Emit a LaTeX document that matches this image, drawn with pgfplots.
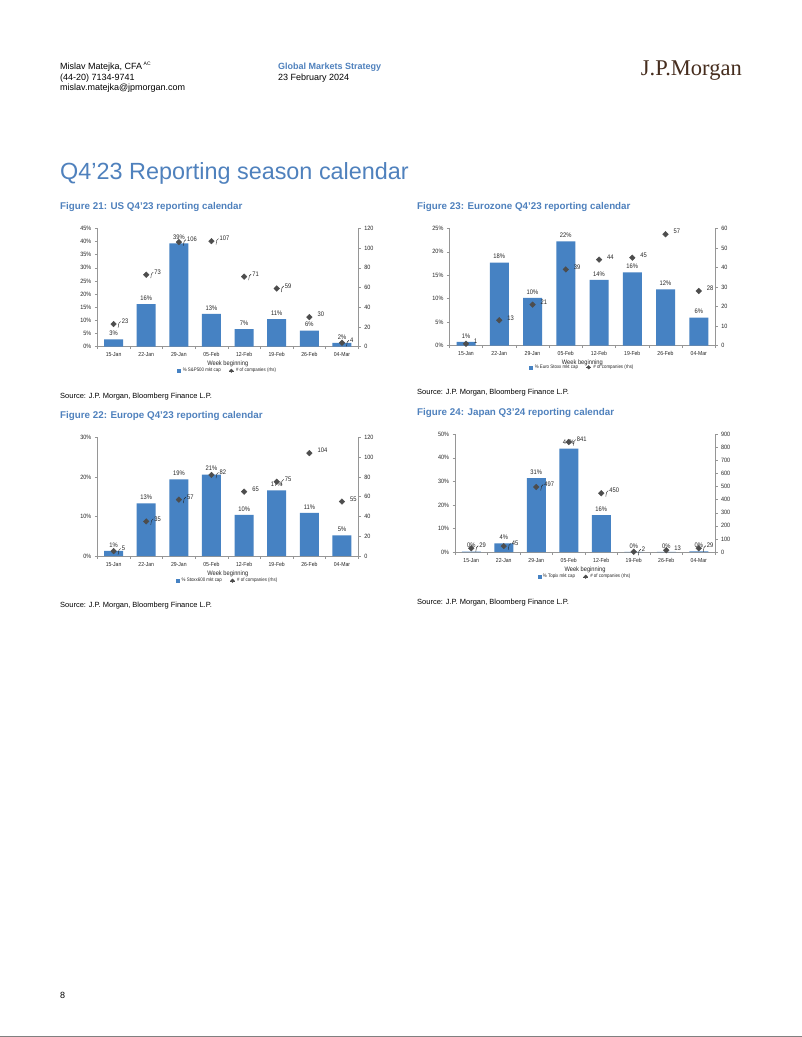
\documentclass[border=0pt]{standalone}
\usepackage{pgfplots}
\pgfplotsset{compat=1.18}
\usepackage{fontspec}
\setmainfont{Liberation Sans}
\newfontfamily\nar[FakeStretch=0.88]{Liberation Sans}
\newfontfamily\jpserif{Liberation Serif}
\definecolor{jpblue}{RGB}{79,129,189}
\definecolor{jpbar}{RGB}{70,130,195}
\definecolor{jpmark}{RGB}{77,77,77}
\definecolor{jpaxis}{RGB}{150,150,150}
\definecolor{jpbrown}{RGB}{70,45,30}

\pgfplotsset{
  /pgf/number format/assume math mode=true,
  jpbase/.style={
    scale only axis, anchor=south west, clip=false,
    xmin=-0.5, xmax=7.5, ymin=0,
    axis line style={draw=jpaxis, line width=0.5pt},
    tick style={draw=jpaxis, line width=0.5pt},
    major tick length=2.5pt,
    tick align=outside,
    yticklabel style={font=\nar\fontsize{6.2}{7}\selectfont, text=black!85},
  },
  jpleft/.style={jpbase,
    axis x line*=bottom, axis y line*=left,
    xtick={-0.5,0.5,1.5,2.5,3.5,4.5,5.5,6.5,7.5},
    xticklabels={15-Jan,22-Jan,29-Jan,05-Feb,12-Feb,19-Feb,26-Feb,04-Mar,{}},
    xticklabel style={font=\nar\fontsize{5.8}{7}\selectfont, text=black!85, xshift=#1},
    yticklabel={\pgfmathprintnumber{\tick}\%},
    ybar, bar width=19pt,
    xlabel={Week beginning},
    xlabel style={font=\nar\fontsize{6.5}{7}\selectfont, text=black!85, anchor=center},
  },
  jpright/.style={jpbase,
    axis y line*=right, axis x line=none,
    legend style={draw=none, fill=none, font=\nar\fontsize{5}{6}\selectfont,
      text=black!85, legend columns=2, anchor=center, inner sep=0pt,
      /tikz/every even column/.append style={column sep=6pt}},
  },
  jpbars/.style={fill=jpbar, draw=none, point meta=y,
    nodes near coords={\pgfmathprintnumber[fixed,precision=0]{\pgfplotspointmeta}\%},
    every node near coord/.append style={font=\nar\fontsize{6.6}{7}\selectfont,
      text=black!85, anchor=south, inner sep=1pt, yshift=2.5pt}},
  jpmarks/.style={only marks, mark=square*, mark size=2pt,
    mark options={rotate=45, fill=jpmark, draw=jpmark}, point meta=y,
    nodes near coords={\pgfmathprintnumber[fixed,precision=0]{\pgfplotspointmeta}},
    every node near coord/.append style={font=\nar\fontsize{6.6}{7}\selectfont,
      text=black!85, anchor=west, inner sep=1pt, xshift=7pt, yshift=2.5pt},
    legend image code/.code={\draw[black!70,line width=0.3pt] (0pt,0pt) -- (5pt,0pt);
      \fill[jpmark] (2.5pt,1.8pt) -- (4.3pt,0pt) -- (2.5pt,-1.8pt) -- (0.7pt,0pt) -- cycle;}},
  lead/.style={every node near coord/.append style={append after command={
      (\tikzlastnode.west) edge[draw=black!85, line width=0.4pt,
        to path={-- ++(-2.5pt,0pt) -- (\tikztotarget)}] ++(-6pt,-2.5pt)}}},
  barlegend/.style={legend image code/.code={\fill[jpbar] (0pt,-1.5pt) rectangle (3pt,1.5pt);}},
}

\begin{document}
\begin{tikzpicture}
\useasboundingbox (0pt,0pt) rectangle (802pt,-1037pt);
\fill[white] (0pt,0pt) rectangle (802pt,-1037pt);
\draw[black!50, line width=1pt] (0pt,-1036.3pt) -- (802pt,-1036.3pt);

% header
\node[anchor=base west, inner sep=0pt, font=\fontsize{9}{10}\selectfont] at (60pt,-69.5pt)
  {Mislav Matejka, CFA\,\raisebox{0.8ex}{\fontsize{5}{5}\selectfont AC}};
\node[anchor=base west, inner sep=0pt, font=\fontsize{9}{10}\selectfont] at (60pt,-80pt) {(44-20) 7134-9741};
\node[anchor=base west, inner sep=0pt, font=\fontsize{9}{10}\selectfont] at (60pt,-90.5pt) {mislav.matejka@jpmorgan.com};
\node[anchor=base west, inner sep=0pt, font=\bfseries\fontsize{9}{10}\selectfont, text=jpblue] at (278pt,-69.5pt) {Global Markets Strategy};
\node[anchor=base west, inner sep=0pt, font=\fontsize{9}{10}\selectfont] at (278pt,-80pt) {23 February 2024};
\node[anchor=base east, inner sep=0pt, font=\jpserif\fontsize{22.5}{23}\selectfont, text=jpbrown] at (742pt,-75.5pt) {J.P.Morgan};

\node[anchor=base west, inner sep=0pt, font=\fontsize{23.4}{25}\selectfont, text=jpblue] at (60pt,-179.5pt) {Q4’23 Reporting season calendar};

\node[anchor=base west, inner sep=0pt, font=\bfseries\fontsize{9.8}{11}\selectfont, text=jpblue] at (60pt,-209.5pt) {Figure 21: US Q4’23 reporting calendar};
\node[anchor=base west, inner sep=0pt, font=\bfseries\fontsize{9.8}{11}\selectfont, text=jpblue] at (417pt,-209.5pt) {Figure 23: Eurozone Q4’23 reporting calendar};
\node[anchor=base west, inner sep=0pt, font=\bfseries\fontsize{9.8}{11}\selectfont, text=jpblue] at (60pt,-418.5pt) {Figure 22: Europe Q4’23 reporting calendar};
\node[anchor=base west, inner sep=0pt, font=\bfseries\fontsize{9.8}{11}\selectfont, text=jpblue] at (417pt,-415.5pt) {Figure 24: Japan Q3’24 reporting calendar};

\node[anchor=base west, inner sep=0pt, font=\fontsize{7.5}{9}\selectfont] at (60pt,-398pt) {Source: J.P. Morgan, Bloomberg Finance L.P.};
\node[anchor=base west, inner sep=0pt, font=\fontsize{7.5}{9}\selectfont] at (417pt,-394pt) {Source: J.P. Morgan, Bloomberg Finance L.P.};
\node[anchor=base west, inner sep=0pt, font=\fontsize{7.5}{9}\selectfont] at (60pt,-607pt) {Source: J.P. Morgan, Bloomberg Finance L.P.};
\node[anchor=base west, inner sep=0pt, font=\fontsize{7.5}{9}\selectfont] at (417pt,-604pt) {Source: J.P. Morgan, Bloomberg Finance L.P.};

\node[anchor=base west, inner sep=0pt, font=\fontsize{9}{10}\selectfont] at (60pt,-998pt) {8};

% ---------- Figure 21: US ----------
\begin{axis}[jpleft=16.3pt, at={(97.3pt,-346.7pt)}, width=261pt, height=118.4pt,
  ymax=45, ytick={0,5,...,45},
  xlabel style={at={(axis description cs:0.5,-0.146)}}]
\addplot[jpbars] coordinates {(0,2.8)(1,16.2)(2,39.3)(3,12.5)(4,6.7)(5,10.5)(6,6.1)(7,1.5)};
\end{axis}
\begin{axis}[jpright, at={(97.3pt,-346.7pt)}, width=261pt, height=118.4pt,
  ymax=120, ytick={0,20,...,120},
  legend style={at={(0.5,-0.203)}}]
\addlegendimage{barlegend}
\addlegendentry{\% S\&P500 mkt cap}
\addplot[jpmarks, lead] coordinates {(0,23)(1,73)(2,106)(3,107)(4,71)(5,59)(7,4)};
\addlegendentry{\# of companies (rhs)}
\addplot[jpmarks, forget plot] coordinates {(6,30)};
\end{axis}

% ---------- Figure 23: Eurozone ----------
\begin{axis}[jpleft=16.6pt, at={(449.4pt,-345.7pt)}, width=266pt, height=117.4pt,
  ymax=25, ytick={0,5,...,25},
  xlabel style={at={(axis description cs:0.5,-0.145)}}]
\addplot[jpbars] coordinates {(0,0.8)(1,17.7)(2,10.2)(3,22.2)(4,14.0)(5,15.6)(6,12.0)(7,6.0)};
\end{axis}
\begin{axis}[jpright, at={(449.4pt,-345.7pt)}, width=266pt, height=117.4pt,
  ymax=60, ytick={0,10,...,60},
  legend style={at={(0.5,-0.184)}}]
\addlegendimage{barlegend}
\addlegendentry{\% Euro Stoxx mkt cap}
\addplot[jpmarks] coordinates {(0,1)(1,13)(2,21)(3,39)(4,44)(5,45)(6,57)(7,28)};
\addlegendentry{\# of companies (rhs)}
\end{axis}

% ---------- Figure 22: Europe ----------
\begin{axis}[jpleft=16.3pt, at={(97.3pt,-556pt)}, width=261pt, height=118.7pt,
  ymax=30, ytick={0,10,...,30},
  xlabel style={at={(axis description cs:0.5,-0.152)}}]
\addplot[jpbars] coordinates {(0,1.3)(1,13.3)(2,19.4)(3,20.6)(4,10.4)(5,16.6)(6,10.9)(7,5.2)};
\end{axis}
\begin{axis}[jpright, at={(97.3pt,-556pt)}, width=261pt, height=118.7pt,
  ymax=120, ytick={0,20,...,120},
  legend style={at={(0.5,-0.208)}}]
\addlegendimage{barlegend}
\addlegendentry{\% Stoxx600 mkt cap}
\addplot[jpmarks, lead] coordinates {(0,5)(1,35)(2,57)(3,82)(5,75)};
\addlegendentry{\# of companies (rhs)}
\addplot[jpmarks, forget plot] coordinates {(4,65)(6,104)(7,55)};
\end{axis}

% ---------- Figure 24: Japan ----------
\begin{axis}[jpleft=16.25pt, at={(455pt,-552pt)}, width=260pt, height=117.7pt,
  ymax=50, ytick={0,10,...,50},
  xlabel style={at={(axis description cs:0.5,-0.153)}}]
\addplot[jpbars] coordinates {(0,0.2)(1,3.7)(2,31.4)(3,43.9)(4,15.7)(5,0.1)(6,0.1)(7,0.3)};
\end{axis}
\begin{axis}[jpright, at={(455pt,-552pt)}, width=260pt, height=117.7pt,
  ymax=900, ytick={0,100,...,900},
  legend style={at={(0.5,-0.21)}}]
\addlegendimage{barlegend}
\addlegendentry{\% Topix mkt cap}
\addplot[jpmarks, lead] coordinates {(0,29)(1,45)(2,497)(3,841)(4,450)(5,2)(7,29)};
\addlegendentry{\# of companies (rhs)}
\addplot[jpmarks, forget plot] coordinates {(6,13)};
\end{axis}
\end{tikzpicture}
\end{document}
